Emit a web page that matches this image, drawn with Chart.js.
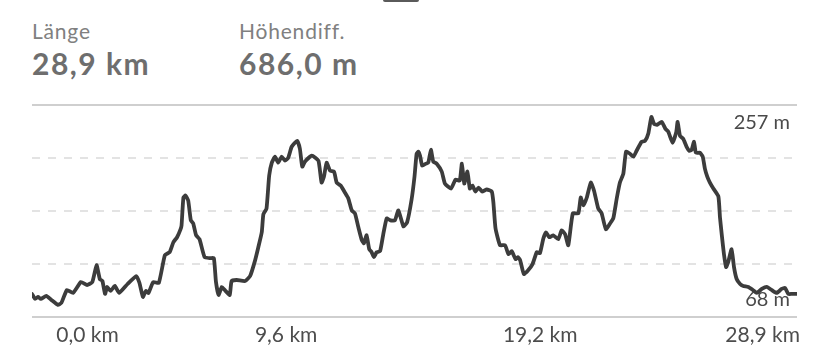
<!DOCTYPE html>
<html>
<head>
<meta charset="utf-8">
<script src="https://cdn.jsdelivr.net/npm/chart.js@4"></script>
<style>
  html, body { margin: 0; padding: 0; background: #fff; }
  body { width: 828px; height: 358px; position: relative; overflow: hidden; font-family: Lato, sans-serif; }
  .handle { position: absolute; left: 383px; top: -2px; width: 36px; height: 4px; border-radius: 2px; background: #5a5a5a; }
  .lbl { position: absolute; font-size: 21px; line-height: 1; color: #808080; letter-spacing: 0.8px; }
  .val { position: absolute; font-size: 30px; line-height: 1; font-weight: 700; color: #6e6e6e; letter-spacing: 1.5px; }
  #wrap { position: absolute; left: 0; top: 0; width: 828px; height: 358px; }
</style>
</head>
<body>
<div class="handle"></div>
<div class="lbl" style="left:32px;top:20px">Länge</div>
<div class="val" style="left:32px;top:48px">28,9 km</div>
<div class="lbl" style="left:239px;top:20px">Höhendiff.</div>
<div class="val" style="left:239px;top:48px">686,0 m</div>
<div id="wrap"><canvas id="c"></canvas></div>
<script>
// elevation profile, distance in km / elevation in m
const distKm = [
  0.00, 0.12, 0.23, 0.33, 0.54, 0.73, 0.98, 1.11, 1.32, 1.55,
  1.85, 2.08, 2.28, 2.44, 2.56, 2.66, 2.76, 2.84, 2.97, 3.13,
  3.29, 3.61, 3.94, 4.06, 4.19, 4.30, 4.40, 4.58, 4.79, 5.02,
  5.20, 5.34, 5.48, 5.61, 5.65, 5.72, 5.80, 5.90, 6.00, 6.09,
  6.20, 6.33, 6.52, 6.74, 6.87, 6.95, 7.05, 7.17, 7.31, 7.47,
  7.54, 7.73, 8.05, 8.24, 8.42, 8.55, 8.68, 8.74, 8.86, 8.96,
  9.06, 9.18, 9.30, 9.43, 9.56, 9.68, 9.81, 10.02, 10.12, 10.21,
  10.31, 10.57, 10.82, 10.94, 11.03, 11.13, 11.26, 11.41, 11.51, 11.66,
  11.82, 11.95, 12.08, 12.20, 12.33, 12.46, 12.54, 12.64, 12.74, 12.83,
  12.92, 13.02, 13.15, 13.27, 13.40, 13.54, 13.71, 13.84, 14.03, 14.17,
  14.34, 14.45, 14.53, 14.60, 14.66, 14.74, 14.88, 14.97, 15.07, 15.16,
  15.29, 15.48, 15.60, 15.83, 16.00, 16.16, 16.24, 16.33, 16.45, 16.54,
  16.64, 16.75, 16.87, 17.00, 17.18, 17.37, 17.43, 17.51, 17.68, 17.87,
  18.00, 18.12, 18.27, 18.35, 18.44, 18.58, 18.72, 18.91, 19.07, 19.19,
  19.32, 19.42, 19.54, 19.69, 19.88, 20.01, 20.14, 20.26, 20.43, 20.64,
  20.73, 20.83, 20.96, 21.11, 21.23, 21.39, 21.52, 21.68, 21.84, 21.96,
  22.09, 22.21, 22.34, 22.44, 22.59, 22.72, 22.84, 23.03, 23.16, 23.28,
  23.40, 23.50, 23.61, 23.79, 23.93, 24.04, 24.20, 24.34, 24.39, 24.48,
  24.60, 24.73, 24.83, 24.92, 25.01, 25.08, 25.23, 25.34, 25.42, 25.51,
  25.61, 25.74, 25.93, 25.99, 26.06, 26.14, 26.22, 26.30, 26.43, 26.52,
  26.62, 26.75, 26.87, 27.06, 27.23, 27.38, 27.57, 27.76, 27.94, 28.13,
  28.32, 28.45, 28.57, 28.70, 28.90
];
const elevM = [
  79, 74, 76, 74, 77, 73, 68, 70, 83, 80,
  91, 88, 91, 108, 94, 92, 79, 86, 82, 87,
  80, 89, 97, 90, 76, 82, 80, 91, 90, 118,
  121, 131, 136, 144, 148, 176, 178, 173, 153, 150,
  138, 134, 116, 115, 115, 91, 78, 86, 82, 78,
  92, 93, 92, 97, 112, 126, 141, 159, 165, 198,
  211, 217, 211, 217, 213, 216, 227, 233, 225, 207,
  212, 218, 213, 191, 197, 211, 203, 202, 191, 188,
  181, 175, 163, 160, 146, 133, 130, 138, 124, 121,
  116, 121, 122, 139, 155, 153, 153, 163, 147, 151,
  174, 197, 220, 222, 218, 208, 210, 211, 224, 212,
  210, 202, 190, 185, 194, 193, 210, 190, 202, 185,
  188, 182, 186, 182, 184, 182, 171, 145, 128, 128,
  119, 122, 114, 116, 113, 99, 102, 109, 121, 120,
  135, 141, 136, 138, 134, 143, 139, 128, 160, 160,
  176, 168, 176, 191, 183, 165, 160, 144, 150, 155,
  175, 191, 200, 222, 220, 217, 223, 232, 233, 240,
  257, 250, 249, 252, 245, 242, 231, 242, 252, 238,
  235, 227, 223, 224, 232, 221, 221, 217, 205, 197,
  191, 185, 177, 156, 138, 119, 106, 111, 124, 106,
  94, 89, 87, 86, 83, 80, 84, 86, 83, 80,
  84, 85, 79, 79, 79
];
const xTickAt = [2.1, 9.6, 19.2, 27.6];
const xTickText = ['0,0 km', '9,6 km', '19,2 km', '28,9 km'];
const yBounds = [56, 269];

const pts = distKm.map((d, i) => ({ x: d, y: elevM[i] }));
const eMax = Math.max(...elevM), eMin = Math.min(...elevM);

// max / min labels at right edge of plot
const extremaLabels = {
  id: 'extremaLabels',
  beforeDatasetsDraw(chart) {
    const { ctx, chartArea, scales } = chart;
    ctx.save();
    ctx.font = '20px Lato';
    ctx.fillStyle = '#4a4a4a';
    ctx.textAlign = 'right';
    ctx.textBaseline = 'top';
    ctx.fillText(eMax + ' m', chartArea.right - 7, scales.y.getPixelForValue(eMax) - 4);
    ctx.textBaseline = 'alphabetic';
    ctx.fillText(eMin + ' m', chartArea.right - 7, scales.y.getPixelForValue(eMin) + 1);
    ctx.restore();
  }
};

const isEdge = c => c.index === 0 || c.index === 4;

new Chart(document.getElementById('c'), {
  type: 'line',
  data: {
    datasets: [{
      data: pts,
      borderColor: '#3c3c3c',
      borderWidth: 3.8,
      pointRadius: 0,
      tension: 0.15,
      borderJoinStyle: 'round',
      borderCapStyle: 'round',
      fill: false
    }]
  },
  options: {
    responsive: true,
    maintainAspectRatio: false,
    animation: false,
    layout: { padding: { left: 32, right: 31, top: 105, bottom: 12 } },
    plugins: { legend: { display: false }, tooltip: { enabled: false } },
    scales: {
      x: {
        type: 'linear',
        min: 0,
        max: 28.9,
        grid: { display: false },
        border: { display: false },
        afterBuildTicks: s => { s.ticks = xTickAt.map(v => ({ value: v })); },
        ticks: {
          autoSkip: false,
          maxRotation: 0,
          padding: -2,
          color: '#4d4d4d',
          font: { family: 'Lato', size: 21 },
          callback: (v, i) => xTickText[i]
        }
      },
      y: {
        min: yBounds[0],
        max: yBounds[1],
        afterBuildTicks: s => {
          const step = (yBounds[1] - yBounds[0]) / 4;
          s.ticks = [0, 1, 2, 3, 4].map(i => ({ value: yBounds[0] + i * step }));
        },
        ticks: { display: false },
        grid: {
          drawTicks: false,
          lineWidth: 2,
          color: c => isEdge(c) ? '#cfcfcf' : '#e3e3e3'
        },
        border: { display: false, dash: c => isEdge(c) ? [] : [8, 8] }
      }
    }
  },
  plugins: [extremaLabels]
});
</script>
</body>
</html>
